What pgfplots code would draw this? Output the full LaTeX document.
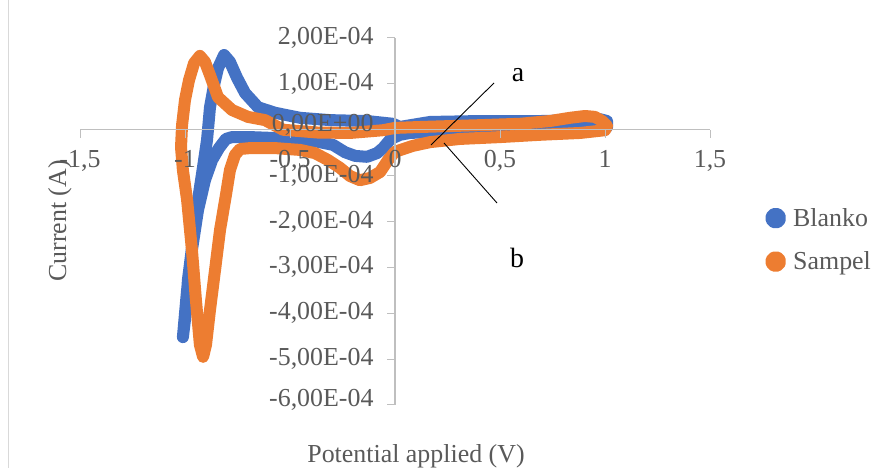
\documentclass[border=0pt]{standalone}
\usepackage{pgfplots}
\pgfplotsset{compat=1.18}
\usepackage{fontspec}
\setmainfont{Liberation Serif}
\definecolor{blanko}{HTML}{4472C4}
\definecolor{sampel}{HTML}{ED7D31}
\definecolor{axgray}{HTML}{BFBFBF}
\definecolor{txtgray}{HTML}{595959}
\newcommand{\bigf}{\fontsize{26}{30}\selectfont}
\begin{document}
\begin{tikzpicture}
\path[use as bounding box] (0bp,0bp) rectangle (884bp,468bp);
\draw[color=axgray!60, line width=1bp] (8bp,0bp) -- (8bp,468bp);
\begin{axis}[
  at={(80bp,63bp)}, anchor=south west,
  scale only axis, width=630bp, height=367bp,
  xmin=-1.5, xmax=1.5, ymin=-6, ymax=2,
  axis lines=middle, axis on top,
  axis line style={-, color=axgray, line width=1.1bp},
  hide obscured x ticks=false, hide obscured y ticks=false,
  scaled x ticks=false, scaled y ticks=false,
  xtick={-1.5,-1,-0.5,0,0.5,1,1.5},
  xticklabels={{-1,5},{-1},{-0,5},{0},{0,5},{1},{1,5}},
  ytick={-6,-5,-4,-3,-2,-1,0,1,2},
  yticklabels={{\raisebox{15bp}{-6,00E-04}},{-5,00E-04},{-4,00E-04},{-3,00E-04},{-2,00E-04},{-1,00E-04},{\raisebox{14bp}{0,00E+00}},{1,00E-04},{2,00E-04}},
  tick align=outside,
  major tick length=8bp,
  tick style={color=axgray, line width=1bp},
  ticklabel style={font=\bigf, text=txtgray},
  xticklabel style={anchor=base, yshift=-30bp},
  yticklabel style={anchor=east, xshift=-10bp},
  clip=false,
  legend style={draw=none, fill=none, font=\bigf, text=txtgray,
    at={(1,0.45)}, anchor=west, xshift=55bp, row sep=20bp, inner sep=0pt},
  legend cell align=left,
  legend image code/.code={\fill[#1] (0bp,0bp) circle (4.5bp);},
  /tikz/every odd column/.append style={column sep=5bp},
]
\addplot[color=blanko, line width=12bp, line join=round, line cap=round] table {
x y
1.01 0.06
0.881 0.02
0.69 -0.01
0.5 -0.01
0.31 -0.03
0.167 -0.05
0.071 -0.07
0.024 -0.11
-0.01 -0.18
-0.024 -0.22
-0.057 -0.40
-0.086 -0.51
-0.133 -0.59
-0.19 -0.57
-0.238 -0.49
-0.295 -0.33
-0.381 -0.25
-0.452 -0.21
-0.571 -0.18
-0.69 -0.16
-0.776 -0.16
-0.805 -0.20
-0.838 -0.40
-0.871 -0.66
-0.905 -1.10
-0.938 -1.75
-0.967 -2.62
-0.99 -3.49
-1.010 -4.52
-1.0 -4.14
-0.986 -3.27
-0.962 -2.40
-0.938 -1.53
-0.914 -0.81
-0.895 -0.22
-0.881 0.49
-0.862 0.97
-0.843 1.34
-0.814 1.63
-0.786 1.48
-0.752 1.13
-0.714 0.80
-0.652 0.49
-0.571 0.37
-0.452 0.26
-0.31 0.21
-0.133 0.19
-0.01 0.13
0.024 0.06
0.048 0.08
0.167 0.17
0.405 0.19
0.69 0.19
0.881 0.21
0.976 0.23
1.01 0.19
1.01 0.06
};
\addlegendentry{Blanko}
\addplot[color=sampel, line width=12bp, line join=round, line cap=round] table {
x y
0 0.04
0.119 0.06
0.262 0.08
0.405 0.10
0.595 0.13
0.738 0.19
0.833 0.26
0.905 0.30
0.952 0.28
0.986 0.19
1.01 0.08
1.0 -0.01
0.881 -0.07
0.69 -0.11
0.5 -0.16
0.31 -0.20
0.167 -0.27
0.086 -0.35
0.033 -0.43
0 -0.48
-0.033 -0.66
-0.071 -0.92
-0.119 -1.05
-0.167 -1.10
-0.214 -1.01
-0.262 -0.83
-0.319 -0.66
-0.381 -0.51
-0.452 -0.44
-0.571 -0.40
-0.69 -0.40
-0.738 -0.42
-0.762 -0.55
-0.786 -0.88
-0.805 -1.42
-0.833 -2.18
-0.857 -3.06
-0.881 -3.93
-0.9 -4.69
-0.914 -4.95
-0.929 -4.69
-0.948 -3.71
-0.967 -2.62
-0.99 -1.53
-1.01 -0.88
-1.019 -0.38
-1.014 0.10
-1.0 0.65
-0.981 1.08
-0.957 1.45
-0.929 1.61
-0.905 1.48
-0.881 1.19
-0.843 0.71
-0.776 0.43
-0.7 0.28
-0.619 0.21
-0.533 0.0
-0.371 -0.06
-0.214 -0.07
-0.057 -0.01
0 0.04
};
\addlegendentry{Sampel}
\end{axis}
\node[rotate=90, anchor=base, font=\bigf, text=txtgray] at (66bp,247bp) {Current (A)};
\node[anchor=base, font=\bigf, text=txtgray] at (416bp,6bp) {Potential applied (V)};
\draw[black, line width=0.9bp] (494bp,385bp) -- (431bp,323bp);
\draw[black, line width=0.9bp] (444bp,325bp) -- (497bp,265bp);
\node[anchor=base, font=\fontsize{28}{32}\selectfont] at (518bp,386bp) {a};
\node[anchor=base, font=\fontsize{28}{32}\selectfont] at (517bp,200bp) {b};
\end{tikzpicture}
\end{document}
